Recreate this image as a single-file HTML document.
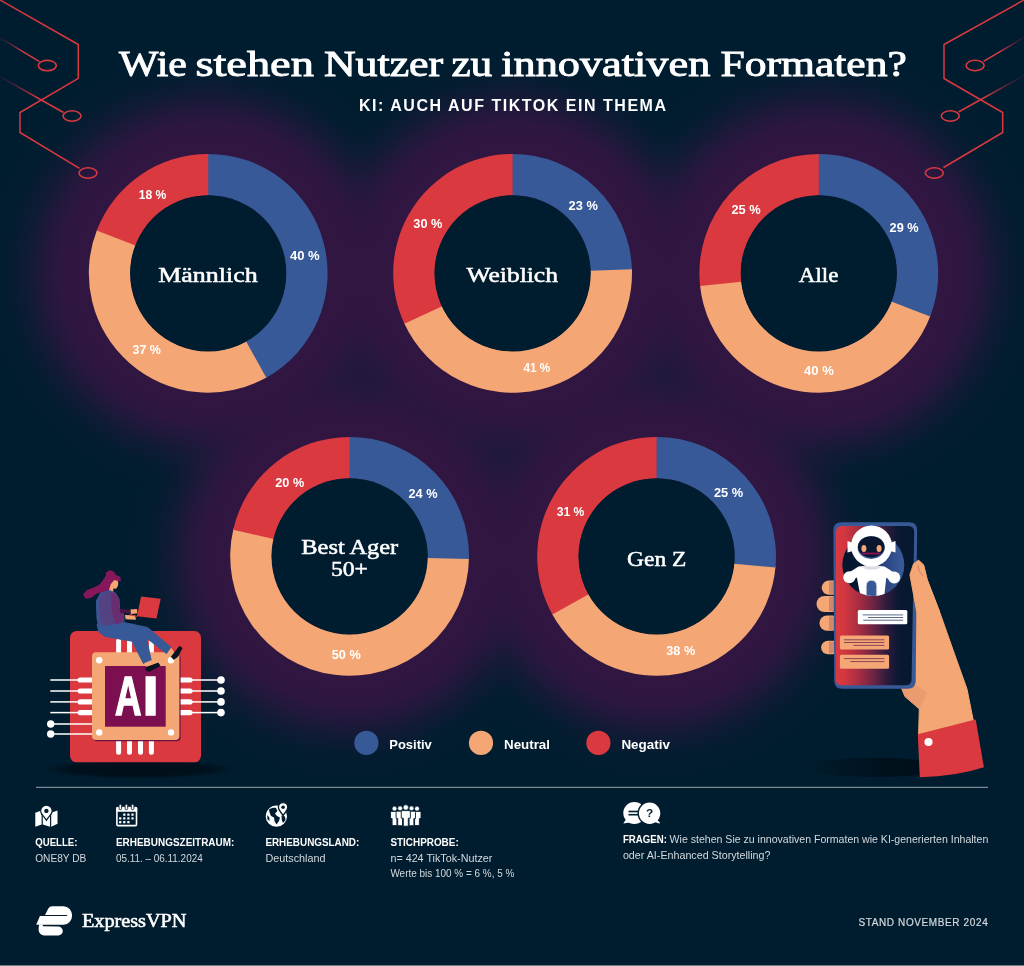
<!DOCTYPE html>
<html lang="de"><head><meta charset="utf-8"><title>Wie stehen Nutzer zu innovativen Formaten?</title>
<style>
html,body{margin:0;padding:0;background:#001d2f;}
body{width:1024px;height:966px;overflow:hidden;}
svg{display:block;}
text{white-space:pre;}
</style></head><body>
<svg width="1024" height="966" viewBox="0 0 1024 966">
<defs>
<radialGradient id="glow" cx="0.5" cy="0.5" r="0.5">
<stop offset="0" stop-color="#311641" stop-opacity="1"/>
<stop offset="0.56" stop-color="#311641" stop-opacity="1"/>
<stop offset="0.66" stop-color="#311641" stop-opacity="0.92"/>
<stop offset="0.73" stop-color="#311641" stop-opacity="0.66"/>
<stop offset="0.80" stop-color="#311641" stop-opacity="0.34"/>
<stop offset="0.87" stop-color="#311641" stop-opacity="0.11"/>
<stop offset="0.93" stop-color="#311641" stop-opacity="0.025"/>
<stop offset="1" stop-color="#311641" stop-opacity="0"/>
</radialGradient>
<linearGradient id="fadeL" x1="0" y1="0" x2="1" y2="0"><stop offset="0" stop-color="#5a1c45" stop-opacity="0.2"/><stop offset="0.6" stop-color="#da3940"/></linearGradient>
<linearGradient id="fadeR" x1="1" y1="0" x2="0" y2="0"><stop offset="0" stop-color="#5a1c45" stop-opacity="0.2"/><stop offset="0.6" stop-color="#da3940"/></linearGradient>
<linearGradient id="screen" x1="0" y1="0" x2="1" y2="0"><stop offset="0" stop-color="#da3940"/><stop offset="0.1" stop-color="#d4373f"/><stop offset="0.3" stop-color="#a52d42"/><stop offset="0.5" stop-color="#662342"/><stop offset="0.66" stop-color="#2c1a3b"/><stop offset="0.8" stop-color="#0b1833"/><stop offset="1" stop-color="#04182e"/></linearGradient>
<linearGradient id="robobg" x1="0" y1="0" x2="1" y2="0"><stop offset="0" stop-color="#04152c"/><stop offset="0.38" stop-color="#0a1a38"/><stop offset="0.7" stop-color="#2b4682"/><stop offset="1" stop-color="#3a5c9c"/></linearGradient>
<radialGradient id="shadow" cx="0.5" cy="0.5" r="0.5"><stop offset="0" stop-color="#000f1a" stop-opacity="1"/><stop offset="0.7" stop-color="#000f1a" stop-opacity="0.9"/><stop offset="1" stop-color="#000f1a" stop-opacity="0"/></radialGradient>
</defs>

<rect width="1024" height="966" fill="#001d2f"/>
<circle cx="208.2" cy="273.3" r="226" fill="url(#glow)"/>
<circle cx="512.6" cy="273.3" r="226" fill="url(#glow)"/>
<circle cx="818.8" cy="273.3" r="226" fill="url(#glow)"/>
<circle cx="349.6" cy="556.3" r="226" fill="url(#glow)"/>
<circle cx="656.6" cy="556.3" r="226" fill="url(#glow)"/>
<g fill="none" stroke="#da3940" stroke-width="1.5" stroke-linejoin="miter">
<path d="M0,0 L78.3,44.5 L78.3,78.3 L20,112.5 L20,132.5 L79.5,168.3"/>
<path d="M0,38 L39.5,61.6" stroke="url(#fadeL)"/>
<path d="M0,76.6 L63.5,112.5" stroke="url(#fadeL)"/>
<ellipse cx="88" cy="173" rx="9" ry="5.2" stroke-width="1.6"/>
<ellipse cx="47.3" cy="65.6" rx="9" ry="5.2" stroke-width="1.6"/>
<ellipse cx="72" cy="116" rx="9" ry="5.2" stroke-width="1.6"/>
<path d="M1024,0 L944,44.5 L944,78.5 L1002.7,112.5 L1002.7,132.5 L943.5,167.5"/>
<path d="M1024,37.5 L983.5,61.3" stroke="url(#fadeR)"/>
<path d="M1024,75.5 L958.5,112" stroke="url(#fadeR)"/>
<ellipse cx="934.3" cy="173" rx="9" ry="5.2" stroke-width="1.6"/>
<ellipse cx="975.1" cy="65.5" rx="9" ry="5.2" stroke-width="1.6"/>
<ellipse cx="950.3" cy="116" rx="9" ry="5.2" stroke-width="1.6"/>
</g>
<text y="75.8" font-family='"Liberation Serif", serif' font-size="35" fill="#fff" stroke="#fff" stroke-width="0.9"><tspan x="119.1" textLength="67.8" lengthAdjust="spacingAndGlyphs">Wie</tspan> <tspan x="195.4" textLength="118.5" lengthAdjust="spacingAndGlyphs">stehen</tspan> <tspan x="323.9" textLength="119.3" lengthAdjust="spacingAndGlyphs">Nutzer</tspan> <tspan x="451.4" textLength="40.9" lengthAdjust="spacingAndGlyphs">zu</tspan> <tspan x="501.2" textLength="209.1" lengthAdjust="spacingAndGlyphs">innovativen</tspan> <tspan x="720.6" textLength="186.2" lengthAdjust="spacingAndGlyphs">Formaten?</tspan></text>
<text x="359" y="110.6" font-family='"Liberation Sans", sans-serif' font-size="16" font-weight="bold" fill="#fff" text-anchor="start" textLength="307" lengthAdjust="spacing" >KI: AUCH AUF TIKTOK EIN THEMA</text>
<path d="M267.36,377.01 A119.4,119.4 0 0 1 97.15,229.44 L135.84,244.72 A77.8,77.8 0 0 0 246.75,340.88 Z" fill="#f4a674"/>
<path d="M207.37,153.90 A119.4,119.4 0 0 1 266.27,377.63 L246.04,341.28 A77.8,77.8 0 0 0 207.66,195.50 Z" fill="#375997"/>
<path d="M96.69,230.61 A119.4,119.4 0 0 1 208.20,153.90 L208.20,195.50 A77.8,77.8 0 0 0 135.54,245.48 Z" fill="#da3940"/>
<circle cx="208.2" cy="273.3" r="78.1" fill="#001d2f"/>
<path d="M631.89,268.09 A119.4,119.4 0 0 1 403.86,322.62 L441.75,305.44 A77.8,77.8 0 0 0 590.33,269.91 Z" fill="#f4a674"/>
<path d="M511.77,153.90 A119.4,119.4 0 0 1 631.93,269.34 L590.36,270.72 A77.8,77.8 0 0 0 512.06,195.50 Z" fill="#375997"/>
<path d="M404.39,323.76 A119.4,119.4 0 0 1 512.60,153.90 L512.60,195.50 A77.8,77.8 0 0 0 442.09,306.18 Z" fill="#da3940"/>
<circle cx="512.6" cy="273.3" r="78.1" fill="#001d2f"/>
<path d="M930.53,315.41 A119.4,119.4 0 0 1 699.96,284.85 L741.36,280.82 A77.8,77.8 0 0 0 891.60,300.74 Z" fill="#f4a674"/>
<path d="M817.97,153.90 A119.4,119.4 0 0 1 930.08,316.58 L891.31,301.50 A77.8,77.8 0 0 0 818.26,195.50 Z" fill="#375997"/>
<path d="M700.09,286.09 A119.4,119.4 0 0 1 818.80,153.90 L818.80,195.50 A77.8,77.8 0 0 0 741.45,281.63 Z" fill="#da3940"/>
<circle cx="818.8" cy="273.3" r="78.1" fill="#001d2f"/>
<path d="M468.99,557.76 A119.4,119.4 0 1 1 233.47,528.57 L273.93,538.23 A77.8,77.8 0 1 0 427.39,557.25 Z" fill="#f4a674"/>
<path d="M348.77,436.90 A119.4,119.4 0 0 1 468.97,559.01 L427.38,558.07 A77.8,77.8 0 0 0 349.06,478.50 Z" fill="#375997"/>
<path d="M233.18,529.79 A119.4,119.4 0 0 1 349.60,436.90 L349.60,478.50 A77.8,77.8 0 0 0 273.74,539.02 Z" fill="#da3940"/>
<circle cx="349.6" cy="556.3" r="78.1" fill="#001d2f"/>
<path d="M775.58,566.35 A119.4,119.4 0 0 1 551.79,613.49 L588.31,593.57 A77.8,77.8 0 0 0 734.12,562.85 Z" fill="#f4a674"/>
<path d="M655.77,436.90 A119.4,119.4 0 0 1 775.46,567.60 L734.05,563.66 A77.8,77.8 0 0 0 656.06,478.50 Z" fill="#375997"/>
<path d="M552.39,614.59 A119.4,119.4 0 0 1 656.60,436.90 L656.60,478.50 A77.8,77.8 0 0 0 588.70,594.28 Z" fill="#da3940"/>
<circle cx="656.6" cy="556.3" r="78.1" fill="#001d2f"/>
<text x="138.7" y="198.6" font-family='"Liberation Sans", sans-serif' font-size="12.7" font-weight="bold" fill="#fff" text-anchor="start" textLength="27.6" lengthAdjust="spacingAndGlyphs" >18 %</text>
<text x="290.0" y="260.0" font-family='"Liberation Sans", sans-serif' font-size="12.7" font-weight="bold" fill="#fff" text-anchor="start" textLength="29.7" lengthAdjust="spacingAndGlyphs" >40 %</text>
<text x="132.5" y="354.2" font-family='"Liberation Sans", sans-serif' font-size="12.7" font-weight="bold" fill="#fff" text-anchor="start" textLength="28.4" lengthAdjust="spacingAndGlyphs" >37 %</text>
<text x="568.6" y="210.2" font-family='"Liberation Sans", sans-serif' font-size="12.7" font-weight="bold" fill="#fff" text-anchor="start" textLength="29.2" lengthAdjust="spacingAndGlyphs" >23 %</text>
<text x="413.3" y="228.3" font-family='"Liberation Sans", sans-serif' font-size="12.7" font-weight="bold" fill="#fff" text-anchor="start" textLength="29.2" lengthAdjust="spacingAndGlyphs" >30 %</text>
<text x="523.6" y="371.5" font-family='"Liberation Sans", sans-serif' font-size="12.7" font-weight="bold" fill="#fff" text-anchor="start" textLength="26.6" lengthAdjust="spacingAndGlyphs" >41 %</text>
<text x="889.6" y="231.5" font-family='"Liberation Sans", sans-serif' font-size="12.7" font-weight="bold" fill="#fff" text-anchor="start" textLength="29.0" lengthAdjust="spacingAndGlyphs" >29 %</text>
<text x="731.4" y="213.7" font-family='"Liberation Sans", sans-serif' font-size="12.7" font-weight="bold" fill="#fff" text-anchor="start" textLength="29.2" lengthAdjust="spacingAndGlyphs" >25 %</text>
<text x="804.0" y="375.0" font-family='"Liberation Sans", sans-serif' font-size="12.7" font-weight="bold" fill="#fff" text-anchor="start" textLength="29.8" lengthAdjust="spacingAndGlyphs" >40 %</text>
<text x="408.5" y="497.8" font-family='"Liberation Sans", sans-serif' font-size="12.7" font-weight="bold" fill="#fff" text-anchor="start" textLength="29.0" lengthAdjust="spacingAndGlyphs" >24 %</text>
<text x="275.3" y="486.5" font-family='"Liberation Sans", sans-serif' font-size="12.7" font-weight="bold" fill="#fff" text-anchor="start" textLength="28.9" lengthAdjust="spacingAndGlyphs" >20 %</text>
<text x="331.8" y="658.8" font-family='"Liberation Sans", sans-serif' font-size="12.7" font-weight="bold" fill="#fff" text-anchor="start" textLength="29.0" lengthAdjust="spacingAndGlyphs" >50 %</text>
<text x="713.9" y="496.7" font-family='"Liberation Sans", sans-serif' font-size="12.7" font-weight="bold" fill="#fff" text-anchor="start" textLength="29.2" lengthAdjust="spacingAndGlyphs" >25 %</text>
<text x="556.7" y="516.1" font-family='"Liberation Sans", sans-serif' font-size="12.7" font-weight="bold" fill="#fff" text-anchor="start" textLength="27.6" lengthAdjust="spacingAndGlyphs" >31 %</text>
<text x="666.3" y="654.7" font-family='"Liberation Sans", sans-serif' font-size="12.7" font-weight="bold" fill="#fff" text-anchor="start" textLength="28.9" lengthAdjust="spacingAndGlyphs" >38 %</text>
<text x="158.3" y="282.2" font-family='"Liberation Serif", serif' font-size="21.3" font-weight="normal" fill="#fff" text-anchor="start" textLength="99.3" lengthAdjust="spacingAndGlyphs" stroke="#fff" stroke-width="0.5">Männlich</text>
<text x="466.4" y="282.4" font-family='"Liberation Serif", serif' font-size="21.3" font-weight="normal" fill="#fff" text-anchor="start" textLength="91.6" lengthAdjust="spacingAndGlyphs" stroke="#fff" stroke-width="0.5">Weiblich</text>
<text x="798.8" y="282.4" font-family='"Liberation Serif", serif' font-size="21.3" font-weight="normal" fill="#fff" text-anchor="start" textLength="39.6" lengthAdjust="spacingAndGlyphs" stroke="#fff" stroke-width="0.5">Alle</text>
<text x="301.3" y="554.1" font-family='"Liberation Serif", serif' font-size="21.3" font-weight="normal" fill="#fff" text-anchor="start" textLength="96.9" lengthAdjust="spacingAndGlyphs" stroke="#fff" stroke-width="0.5">Best Ager</text>
<text x="330.9" y="576.3" font-family='"Liberation Serif", serif' font-size="21.3" font-weight="normal" fill="#fff" text-anchor="start" textLength="37.1" lengthAdjust="spacingAndGlyphs" stroke="#fff" stroke-width="0.5">50+</text>
<text x="627.1" y="566" font-family='"Liberation Serif", serif' font-size="21.3" font-weight="normal" fill="#fff" text-anchor="start" textLength="59.3" lengthAdjust="spacingAndGlyphs" stroke="#fff" stroke-width="0.5">Gen Z</text>
<circle cx="366.4" cy="742.9" r="12.1" fill="#375997"/>
<text x="389.3" y="748.9" font-family='"Liberation Sans", sans-serif' font-size="13.5" font-weight="bold" fill="#fff" text-anchor="start" textLength="42.5" lengthAdjust="spacingAndGlyphs" >Positiv</text>
<circle cx="481" cy="742.9" r="12.1" fill="#f4a674"/>
<text x="504.0" y="748.9" font-family='"Liberation Sans", sans-serif' font-size="13.5" font-weight="bold" fill="#fff" text-anchor="start" textLength="46.0" lengthAdjust="spacingAndGlyphs" >Neutral</text>
<circle cx="598.4" cy="742.9" r="12.1" fill="#da3940"/>
<text x="621.4" y="748.9" font-family='"Liberation Sans", sans-serif' font-size="13.5" font-weight="bold" fill="#fff" text-anchor="start" textLength="48.5" lengthAdjust="spacingAndGlyphs" >Negativ</text>
<g id="chip">
<ellipse cx="138.5" cy="769" rx="97" ry="10" fill="url(#shadow)"/>
<rect x="70" y="631" width="131" height="131.3" rx="6.5" fill="#da3940"/>
<g fill="#fff">
<rect x="116.1" y="638.6" width="5" height="18" rx="2.5"/>
<rect x="116.1" y="736" width="5" height="18.8" rx="2.5"/>
<rect x="127.0" y="638.6" width="5" height="18" rx="2.5"/>
<rect x="127.0" y="736" width="5" height="18.8" rx="2.5"/>
<rect x="138.0" y="638.6" width="5" height="18" rx="2.5"/>
<rect x="138.0" y="736" width="5" height="18.8" rx="2.5"/>
<rect x="148.9" y="638.6" width="5" height="18" rx="2.5"/>
<rect x="148.9" y="736" width="5" height="18.8" rx="2.5"/>
<rect x="77.6" y="677.4" width="18" height="5.2" rx="2.6"/>
<rect x="176" y="677.4" width="16.6" height="5.2" rx="2.6"/>
<rect x="50.3" y="679.25" width="30" height="1.5"/>
<rect x="190" y="679.25" width="30" height="1.5"/>
<circle cx="221" cy="680" r="3.8"/>
<rect x="77.6" y="688.4" width="18" height="5.2" rx="2.6"/>
<rect x="176" y="688.4" width="16.6" height="5.2" rx="2.6"/>
<rect x="50.3" y="690.25" width="30" height="1.5"/>
<rect x="190" y="690.25" width="30" height="1.5"/>
<circle cx="221" cy="691" r="3.8"/>
<rect x="77.6" y="699.3" width="18" height="5.2" rx="2.6"/>
<rect x="176" y="699.3" width="16.6" height="5.2" rx="2.6"/>
<rect x="50.3" y="701.15" width="30" height="1.5"/>
<rect x="190" y="701.15" width="30" height="1.5"/>
<circle cx="221" cy="701.9" r="3.8"/>
<rect x="77.6" y="710.0" width="18" height="5.2" rx="2.6"/>
<rect x="176" y="710.0" width="16.6" height="5.2" rx="2.6"/>
<rect x="50.3" y="711.85" width="30" height="1.5"/>
<rect x="190" y="711.85" width="30" height="1.5"/>
<circle cx="221" cy="712.6" r="3.8"/>
<rect x="51" y="723.25" width="42" height="1.5"/>
<circle cx="50.7" cy="724" r="3.7"/>
<rect x="51" y="733.25" width="42" height="1.5"/>
<circle cx="50.7" cy="734" r="3.7"/>
</g>
<rect x="93.2" y="653.5" width="87.4" height="87.7" rx="4" fill="#6b1245"/>
<rect x="92" y="652.3" width="87.4" height="87.7" rx="4" fill="#f4a674"/>
<rect x="105" y="666" width="60.7" height="60.7" fill="#7b0f50"/>
<circle cx="99.2" cy="660.2" r="3.2" fill="#fff"/>
<circle cx="171" cy="660.2" r="3.2" fill="#fff"/>
<circle cx="99.2" cy="732.4" r="3.2" fill="#fff"/>
<circle cx="171" cy="732.4" r="3.2" fill="#fff"/>
<text y="714.9" font-family='"Liberation Sans", sans-serif' font-size="55.7" font-weight="bold" fill="#fff" stroke="#fff" stroke-width="1.6"><tspan x="115.1" textLength="26.4" lengthAdjust="spacingAndGlyphs">A</tspan><tspan x="142.6" textLength="16.3" lengthAdjust="spacingAndGlyphs">I</tspan></text>
</g>
<g id="woman" stroke-linejoin="round">
<path d="M110.1,571.0 L113.7,572.4 L114.9,575.1 L119.6,577.5 L120.2,580.5 L114.3,579.9 L111.3,584.0 L109.5,589.4 L103.6,591.0 L96.4,593.0 L91.1,597.1 L86.3,598.1 L83.9,594.8 L86.9,591.0 L94.0,588.2 L100.0,585.2 L103.6,580.5 L106.5,576.3 L106.9,572.7 Z" fill="#86175a" stroke="#86175a" stroke-width="1.5"/>
<path d="M114.3,579.9 L117.9,581.1 L118.3,584.0 L117.6,586.4 L116.1,588.8 L113.3,588.5 L113.3,592.1 L108.7,591.0 L110.7,584.3 Z" fill="#f4a674"/>
<path d="M97.0,624.5 L125.0,622.7 L147.6,627.5 L170.8,647.1 L166.7,653.7 L146.4,637.9 L151.2,660.2 L143.5,663.6 L132.1,641.2 L104.8,636.4 L98.8,631.7 Z" fill="#375997" stroke="#375997" stroke-width="1"/>
<pattern id="dots" width="1.5" height="1.5" patternUnits="userSpaceOnUse"><rect width="1.5" height="1.5" fill="none"/><circle cx="0.4" cy="0.4" r="0.42" fill="#86175a"/><circle cx="1.15" cy="1.15" r="0.42" fill="#86175a"/></pattern>
<path d="M100.6,593.0 L109.5,590.6 L115.5,593.0 L119.0,598.9 L119.6,609.0 L123.8,615.0 L124.0,622.1 L110.7,626.0 L98.8,627.1 L97.0,618.6 L96.4,600.7 Z" fill="#3d5594" stroke="#3d5594" stroke-width="1"/>
<path d="M102.4,593.6 L109.5,591.4 L115.5,593.0 L119.0,598.9 L119.6,609.0 L123.8,615.0 L124.0,622.1 L110.7,625.1 L100.6,624.5 L98.8,600.7 Z" fill="url(#dots)" opacity="0.7"/>
<path d="M110.7,592.4 L115.5,593.0 L119.0,598.9 L119.6,609.0 L123.8,615.0 L124.0,622.1 L115.5,623.9 L111.9,612.6 Z" fill="#86175a" opacity="0.45"/>
<path d="M119.6,608.8 L130.4,610.0 L130.4,613.8 L120.2,612.9 Z" fill="#4a1545"/>
<path d="M130.4,609.6 L136.9,609.0 L137.5,613.2 L131.0,614.0 Z" fill="#f4a674"/>
<path d="M125.0,615.0 L135.1,615.6 L136.0,619.8 L125.6,619.2 Z" fill="#f4a674"/>
<path d="M141.1,596.5 L160.7,598.7 L156.5,618.6 L136.9,616.2 Z" fill="#da3940"/>
<path d="M129.8,614.0 L137.1,616.0 L136.9,617.1 L129.5,615.0 Z" fill="#da3940"/>
<path d="M167.3,653.1 L171.2,647.7 L174.8,652.9 L172.0,657.6 Z" fill="#f4a674"/>
<path d="M171.4,656.7 L179.5,646.3 L182.1,648.1 L177.6,656.7 L173.6,659.3 Z" fill="#0a1420" stroke="#0a1420" stroke-width="1"/>
<path d="M144.0,663.2 L151.2,660.2 L152.6,665.2 L146.4,667.1 Z" fill="#f4a674"/>
<path d="M145.8,667.7 L158.3,663.1 L159.9,665.7 L149.0,671.5 L146.4,670.4 Z" fill="#0a1420" stroke="#0a1420" stroke-width="1"/>
</g>
<g id="phone">
<linearGradient id="shadowH" x1="0" y1="0" x2="1" y2="0"><stop offset="0" stop-color="#000f1a" stop-opacity="0"/><stop offset="0.25" stop-color="#000f1a" stop-opacity="0.45"/><stop offset="0.6" stop-color="#000f1a" stop-opacity="0.9"/><stop offset="1" stop-color="#000f1a" stop-opacity="1"/></linearGradient>
<ellipse cx="876" cy="767.4" rx="70" ry="9.6" fill="url(#shadowH)"/>
<rect x="821.7" y="580.6" width="18.299999999999955" height="14.1" rx="7.1" fill="#f4a674"/>
<rect x="829" y="581.6" width="6" height="12.1" fill="#7a3a50" opacity="0.3"/>
<rect x="816.5" y="596" width="23.5" height="16.0" rx="8.0" fill="#f4a674"/>
<rect x="829" y="597" width="6" height="14.0" fill="#7a3a50" opacity="0.3"/>
<rect x="819.4" y="615.5" width="20.600000000000023" height="15.2" rx="7.6" fill="#f4a674"/>
<rect x="829" y="616.5" width="6" height="13.2" fill="#7a3a50" opacity="0.3"/>
<rect x="821.1" y="640.7" width="18.899999999999977" height="13.5" rx="6.8" fill="#f4a674"/>
<rect x="829" y="641.7" width="6" height="11.5" fill="#7a3a50" opacity="0.3"/>
<path d="M918.6,560.4 L923.5,564.9 L927.2,579.8 L939.7,612.1 L954.6,654.3 L967.0,689.1 L973.2,720.1 L918.6,735.0 L919.3,708.9 L904.9,696.5 L899.9,684.1 L914.8,669.2 L914.8,612.1 L911.1,594.7 L909.9,574.8 L913.6,563.7 Z" fill="#f4a674" stroke="#f4a674" stroke-width="1" stroke-linejoin="round"/>
<path d="M899.9,685.3 L914.8,684.1 L927.2,692.8 L919.3,708.9 L904.9,697.0 Z" fill="#c9775f" opacity="0.22"/>
<path d="M841.4,522.3 L909.2,522.3 Q917.2,522.3 917.1,530.3 L915.7,680.8 Q915.6,688.8 907.6,688.8 L842.2,688.8 Q834.3,688.8 834.2,680.8 L833.4,530.3 Q833.4,522.3 841.4,522.3 Z" fill="#375997"/>
<path d="M842,526 L908.3,526 Q914.3,526 914.2,532 L911.6,679.2 Q911.5,685.2 905.5,685.2 L841.6,685.2 Q835.8,685.2 835.8,679.4 L836,532 Q836,526 842,526 Z" fill="url(#screen)"/>
<clipPath id="rc"><circle cx="873.3" cy="565" r="31"/></clipPath>
<circle cx="873.3" cy="565" r="31" fill="url(#robobg)"/>
<g clip-path="url(#rc)" fill="#fff">
<path d="M856.6,576 Q856.6,565.5 866,565.5 L877,565.5 Q886.4,565.5 886.4,576 L884.2,597 L860.6,597 Z"/>
<path d="M860,570.5 L849.5,577.3 M883,570.5 L894,577.6" stroke="#fff" stroke-width="8.5" stroke-linecap="round"/>
<ellipse cx="871.5" cy="567.2" rx="8.5" ry="2.6" fill="#dcdce6"/>
<path d="M866.2,597 L866.2,586.5 Q866.2,580.3 871.5,580.3 Q876.8,580.3 876.8,586.5 L876.8,597 Z" fill="#375997" stroke="#d9dde6" stroke-width="0.9"/>
</g>
<circle cx="849.3" cy="577.3" r="6" fill="#fff"/><circle cx="894.2" cy="577.6" r="6" fill="#fff"/>
<path d="M847.5,541 L853,543 L853,551 L847.5,552.5 Z M895.5,541 L890,543 L890,551 L895.5,552.5 Z" fill="#fff"/>
<circle cx="871.5" cy="546" r="20.5" fill="#fff"/>
<ellipse cx="871.2" cy="547.6" rx="13.6" ry="11.3" fill="#375997"/>
<ellipse cx="871.2" cy="546.8" rx="13.2" ry="10.6" fill="#0b1730"/>
<ellipse cx="863.9" cy="548.4" rx="2.5" ry="3.5" fill="#f4a674"/><ellipse cx="879.1" cy="548.4" rx="2.5" ry="3.5" fill="#f4a674"/>
<rect x="861.6" y="552.6" width="18.8" height="1.8" fill="#8a1555"/>
<rect x="857.8" y="610" width="49.5" height="14.3" rx="1.5" fill="#fff"/>
<rect x="862.7" y="614.4" width="40.5" height="1" fill="#5e6c86"/>
<rect x="868" y="617.0" width="35.2" height="1" fill="#5e6c86"/>
<rect x="863.3" y="619.7" width="39.9" height="1" fill="#5e6c86"/>
<rect x="839.9" y="635.4" width="49.2" height="14.1" rx="1.5" fill="#f4a674"/>
<rect x="844" y="639.3" width="40.4" height="1" fill="#8a4658"/>
<rect x="844" y="642.0" width="40.4" height="1" fill="#8a4658"/>
<rect x="853.4" y="644.9" width="31.0" height="1" fill="#8a4658"/>
<rect x="839.9" y="654.8" width="49.2" height="14" rx="1.5" fill="#f4a674"/>
<rect x="844" y="658.1" width="40.4" height="1" fill="#8a4658"/>
<rect x="850.4" y="661.1" width="34.0" height="1" fill="#8a4658"/>
<path d="M918.6,560.4 L923.5,564.9 L927.2,579.8 L939.7,612.1 L924.8,624.5 L916.8,612.1 L913.6,594.7 L909.9,574.8 L913.6,563.7 Z" fill="#f4a674" stroke="#f4a674" stroke-width="1" stroke-linejoin="round"/>
<path d="M917.8,565.4 L919.3,571.1 L922.8,576.1" fill="none" stroke="#c9775f" stroke-width="0.8"/>
<path d="M917.8,734.3 L975.7,719.6 L983.9,767.3 Q957,776.3 919.8,777.2 Z" fill="#da3940"/>
<circle cx="928.5" cy="742" r="4.1" fill="#fff"/>
</g>
<rect x="36" y="786.8" width="952" height="1.1" fill="#8d99a3"/>
<g id="ic-map" fill="#fff">
<path d="M35.3,812.8 L41.6,810.4 L41.6,824.4 L35.3,826.8 Z"/>
<path d="M42.8,815 L46.4,821 L50,815 L50,826.8 L42.8,824.4 Z"/>
<path d="M51.2,812.8 L57.5,810.4 L57.5,823.8 L51.2,826.8 Z"/>
<path d="M46.4,820.2 C44,816 40.6,814.2 40.6,810.9 A5.8,5.8 0 1 1 52.2,810.9 C52.2,814.2 48.8,816 46.4,820.2 Z" stroke="#001d2f" stroke-width="1.2"/>
<circle cx="46.4" cy="810.9" r="2.2" fill="#001d2f"/>
</g>
<g id="ic-cal">
<rect x="116.9" y="807.6" width="19.6" height="18" rx="1.2" fill="none" stroke="#fff" stroke-width="1.6"/>
<rect x="116.2" y="806.9" width="21" height="4.8" rx="1" fill="#fff"/>
<rect x="119.0" y="804.3" width="2.6" height="5.4" rx="1.3" fill="#fff" stroke="#001d2f" stroke-width="0.9"/>
<rect x="125.10000000000001" y="804.3" width="2.6" height="5.4" rx="1.3" fill="#fff" stroke="#001d2f" stroke-width="0.9"/>
<rect x="131.29999999999998" y="804.3" width="2.6" height="5.4" rx="1.3" fill="#fff" stroke="#001d2f" stroke-width="0.9"/>
<rect x="123.14999999999999" y="813.45" width="2.3" height="2.3" rx="0.5" fill="#fff"/>
<rect x="127.25" y="813.45" width="2.3" height="2.3" rx="0.5" fill="#fff"/>
<rect x="131.35" y="813.45" width="2.3" height="2.3" rx="0.5" fill="#fff"/>
<rect x="119.05" y="817.25" width="2.3" height="2.3" rx="0.5" fill="#fff"/>
<rect x="123.14999999999999" y="817.25" width="2.3" height="2.3" rx="0.5" fill="#fff"/>
<rect x="127.25" y="817.25" width="2.3" height="2.3" rx="0.5" fill="#fff"/>
<rect x="131.35" y="817.25" width="2.3" height="2.3" rx="0.5" fill="#fff"/>
<rect x="119.05" y="821.0500000000001" width="2.3" height="2.3" rx="0.5" fill="#fff"/>
<rect x="123.14999999999999" y="821.0500000000001" width="2.3" height="2.3" rx="0.5" fill="#fff"/>
<rect x="127.25" y="821.0500000000001" width="2.3" height="2.3" rx="0.5" fill="#fff"/>
</g>
<g id="ic-globe">
<circle cx="276.4" cy="816.2" r="10.6" fill="#fff"/>
<path d="M269,809.5 C271,808 274,807.5 276,808 L277.5,811 L275,813.5 L277,816 L280,817.5 L279,821 L276.5,824.5 L274.5,821 L274,817.5 L271,816 L269.5,812.5 Z" fill="#001d2f"/>
<path d="M281.5,815.5 L285,816.5 L285.5,820 L283,823 L281.8,820 Z" fill="#001d2f"/>
<path d="M267.2,815 L269.3,817.5 L269.5,821 L267.5,819.5 Z" fill="#001d2f"/>
<path d="M283.1,815.6 C281.3,812.3 278.4,810.6 278.4,807.3 A4.7,4.7 0 1 1 287.8,807.3 C287.8,810.6 284.9,812.3 283.1,815.6 Z" fill="#fff" stroke="#001d2f" stroke-width="1.3"/>
<circle cx="283.1" cy="807.2" r="1.8" fill="#001d2f"/>
</g>
<g id="ic-people">
<circle cx="394.5" cy="808.7" r="2.35" fill="#fff" stroke="#001d2f" stroke-width="0.5"/><path d="M390.5,812.6 Q390.5,811.4 391.7,811.4 L397.3,811.4 Q398.5,811.4 398.5,812.6 L398.5,818.6 L396.9,818.6 L396.9,825.6 L392.1,825.6 L392.1,818.6 L390.5,818.6 Z" fill="#fff" stroke="#001d2f" stroke-width="0.9" stroke-linejoin="round"/>
<circle cx="417.0" cy="808.7" r="2.35" fill="#fff" stroke="#001d2f" stroke-width="0.5"/><path d="M413.0,812.6 Q413.0,811.4 414.2,811.4 L419.8,811.4 Q421.0,811.4 421.0,812.6 L421.0,818.6 L419.4,818.6 L419.4,825.6 L414.6,825.6 L414.6,818.6 L413.0,818.6 Z" fill="#fff" stroke="#001d2f" stroke-width="0.9" stroke-linejoin="round"/>
<circle cx="400.1" cy="808.3" r="2.35" fill="#fff" stroke="#001d2f" stroke-width="0.5"/><path d="M396.1,812.4000000000001 Q396.1,811.2 397.3,811.2 L402.90000000000003,811.2 Q404.1,811.2 404.1,812.4000000000001 L404.1,818.5 L402.5,818.5 L402.5,825.7 L397.70000000000005,825.7 L397.70000000000005,818.5 L396.1,818.5 Z" fill="#fff" stroke="#001d2f" stroke-width="0.9" stroke-linejoin="round"/>
<circle cx="411.5" cy="808.3" r="2.35" fill="#fff" stroke="#001d2f" stroke-width="0.5"/><path d="M407.5,812.4000000000001 Q407.5,811.2 408.7,811.2 L414.3,811.2 Q415.5,811.2 415.5,812.4000000000001 L415.5,818.5 L413.9,818.5 L413.9,825.7 L409.1,825.7 L409.1,818.5 L407.5,818.5 Z" fill="#fff" stroke="#001d2f" stroke-width="0.9" stroke-linejoin="round"/>
<circle cx="405.8" cy="807.4" r="2.55" fill="#fff" stroke="#001d2f" stroke-width="0.5"/><path d="M401.25,811.8000000000001 Q401.25,810.6 402.45,810.6 L409.15000000000003,810.6 Q410.35,810.6 410.35,811.8000000000001 L410.35,818.2 L408.3,818.2 L408.3,826.2 L403.3,826.2 L403.3,818.2 L401.25,818.2 Z" fill="#fff" stroke="#001d2f" stroke-width="0.9" stroke-linejoin="round"/>
</g>
<g id="ic-chat">
<path d="M623.3,823.6 L626.5,818.5 L633,822 Z" fill="#fff"/>
<circle cx="634.3" cy="813" r="11" fill="#fff"/>
<rect x="628.5" y="810.7" width="9.5" height="1.6" fill="#001d2f"/><rect x="628.5" y="813.9" width="9.5" height="1.6" fill="#001d2f"/>
<path d="M660.2,823.6 L657,818.5 L650.5,822 Z" fill="#fff"/>
<circle cx="649.6" cy="813.2" r="11.4" fill="#fff" stroke="#001d2f" stroke-width="1.4"/>
<path d="M659.6,823 L656.6,818.8 L651.5,821.8 Z" fill="#fff"/>
<text x="649.7" y="817.3" font-family='"Liberation Sans", sans-serif' font-size="11.8" font-weight="bold" fill="#001d2f" text-anchor="middle" >?</text>
</g>
<text x="35.2" y="845.7" font-family='"Liberation Sans", sans-serif' font-size="10.1" font-weight="bold" fill="#fff" text-anchor="start" textLength="42.3" lengthAdjust="spacingAndGlyphs" >QUELLE:</text>
<text x="35.2" y="861.6" font-family='"Liberation Sans", sans-serif' font-size="10.6" font-weight="normal" fill="#d3d9de" text-anchor="start" textLength="51.2" lengthAdjust="spacingAndGlyphs" >ONE8Y DB</text>
<text x="115.9" y="845.7" font-family='"Liberation Sans", sans-serif' font-size="10.1" font-weight="bold" fill="#fff" text-anchor="start" textLength="118.5" lengthAdjust="spacingAndGlyphs" >ERHEBUNGSZEITRAUM:</text>
<text x="115.9" y="861.6" font-family='"Liberation Sans", sans-serif' font-size="10.6" font-weight="normal" fill="#d3d9de" text-anchor="start" textLength="86.8" lengthAdjust="spacingAndGlyphs" >05.11. – 06.11.2024</text>
<text x="265.4" y="845.7" font-family='"Liberation Sans", sans-serif' font-size="10.1" font-weight="bold" fill="#fff" text-anchor="start" textLength="93.9" lengthAdjust="spacingAndGlyphs" >ERHEBUNGSLAND:</text>
<text x="265.4" y="861.6" font-family='"Liberation Sans", sans-serif' font-size="10.6" font-weight="normal" fill="#d3d9de" text-anchor="start" textLength="60.1" lengthAdjust="spacingAndGlyphs" >Deutschland</text>
<text x="390.4" y="845.7" font-family='"Liberation Sans", sans-serif' font-size="10.1" font-weight="bold" fill="#fff" text-anchor="start" textLength="68.3" lengthAdjust="spacingAndGlyphs" >STICHPROBE:</text>
<text x="390.4" y="861.6" font-family='"Liberation Sans", sans-serif' font-size="10.6" font-weight="normal" fill="#d3d9de" text-anchor="start" textLength="102.0" lengthAdjust="spacingAndGlyphs" >n= 424 TikTok-Nutzer</text>
<text x="390.4" y="877.4" font-family='"Liberation Sans", sans-serif' font-size="10.6" font-weight="normal" fill="#d3d9de" text-anchor="start" textLength="123.9" lengthAdjust="spacingAndGlyphs" >Werte bis 100 % = 6 %, 5 %</text>
<text x="622.9" y="843.0" font-family='"Liberation Sans", sans-serif' font-size="10.1" font-weight="bold" fill="#fff" text-anchor="start" textLength="44.0" lengthAdjust="spacingAndGlyphs" >FRAGEN:</text>
<text x="669.6" y="843.0" font-family='"Liberation Sans", sans-serif' font-size="10.6" font-weight="normal" fill="#d3d9de" text-anchor="start" textLength="318.7" lengthAdjust="spacingAndGlyphs" >Wie stehen Sie zu innovativen Formaten wie KI-generierten Inhalten</text>
<text x="622.9" y="859.4" font-family='"Liberation Sans", sans-serif' font-size="10.6" font-weight="normal" fill="#d3d9de" text-anchor="start" textLength="147.6" lengthAdjust="spacingAndGlyphs" >oder AI-Enhanced Storytelling?</text>
<g id="logo" fill="#fff">
<path d="M45.0,915.0 L48.3,908.6 Q49.6,906.2 52.4,906.2 L63.6,906.2 A8.5,9.3 0 0 1 63.6,924.8 L36.2,924.8 L39.9,916.1 L66.2,916.1 Q67.4,916.1 67.4,915.55 Q67.4,915.0 66.2,915.0 Z"/>
<path d="M39.2,924.5 L42.8,924.5 L42.8,926.3 L58.4,926.6 A4.4,4.4 0 0 1 58.4,935.4 L44.2,935.4 A5.6,5.6 0 0 1 38.6,929.8 Q38.6,926.6 39.2,924.5 Z"/>
</g>
<text x="81.9" y="926.5" font-family='"Liberation Serif", serif' font-size="17.8" font-weight="normal" fill="#fff" text-anchor="start" textLength="104.6" lengthAdjust="spacingAndGlyphs" stroke="#fff" stroke-width="0.55">ExpressVPN</text>
<text x="858.4" y="925.6" font-family='"Liberation Sans", sans-serif' font-size="10" font-weight="normal" fill="#d3d9de" text-anchor="start" textLength="129.3" lengthAdjust="spacing" stroke="#d3d9de" stroke-width="0.2">STAND NOVEMBER 2024</text>
<rect x="0" y="965" width="1024" height="1" fill="#6d7d8c"/>
</svg></body></html>
